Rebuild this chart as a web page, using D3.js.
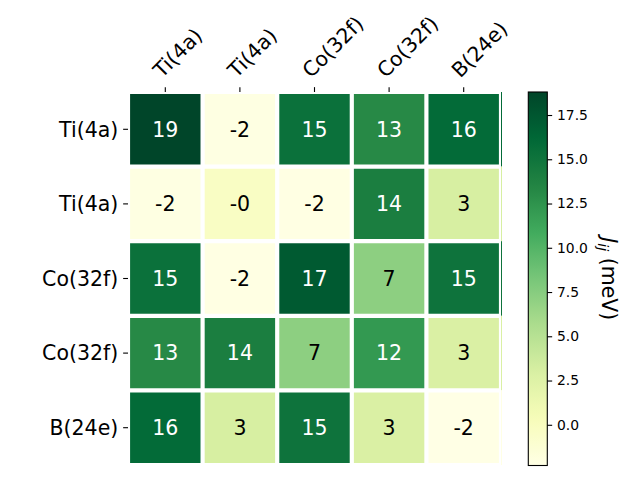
<!DOCTYPE html>
<html>
<head>
<meta charset="utf-8">
<script src="https://cdn.jsdelivr.net/npm/d3@7/dist/d3.min.js"></script>
<style>
  html, body { margin: 0; padding: 0; background: #fff; }
  svg { display: block; font-family: "DejaVu Sans", sans-serif; }
</style>
</head>
<body>
<svg id="chart" width="640" height="480"></svg>
<script>
const rowLabels = ["Ti(4a)", "Ti(4a)", "Co(32f)", "Co(32f)", "B(24e)"];
const colLabels = ["Ti(4a)", "Ti(4a)", "Co(32f)", "Co(32f)", "B(24e)"];
const row0 = [18.8, -2.1, 15.3, 13.2, 15.9];
const row1 = [-2.1, -0.3, -2.2, 14.1, 3.1];
const row2 = [15.3, -2.2, 17.2, 7.2, 15.1];
const row3 = [13.2, 14.1, 7.2, 12.1, 2.9];
const row4 = [15.9, 3.1, 15.1, 2.9, -2.3];
const matrix = [row0, row1, row2, row3, row4];
const cbTicks = [0.0, 2.5, 5.0, 7.5, 10.0, 12.5, 15.0, 17.5];
const cbLabel = "(meV)";

// matplotlib YlGn
const ylgn = ["#ffffe5","#f7fcb9","#d9f0a3","#addd8e","#78c679","#41ab5d","#238443","#006837","#004529"];

const svg = d3.select("#chart");
const L = 128, T = 92, W = 373, H = 373;
const FS = 20.5;

const allVals = matrix.flat();
const vmin = d3.min(allVals), vmax = d3.max(allVals);
const tScale = d3.scaleLinear().domain([vmin, vmax]).range([0, 1]);
const cmap = d3.scaleLinear()
  .domain(ylgn.map((c, i) => i / (ylgn.length - 1)))
  .range(ylgn).interpolate(d3.interpolateRgb).clamp(true);
const color = v => cmap(tScale(v));

const x = d3.scaleBand().domain(d3.range(colLabels.length)).range([L, L + W]).padding(0);
const y = d3.scaleBand().domain(d3.range(rowLabels.length)).range([T, T + H]).padding(0);

const cells = [];
matrix.forEach((r, i) => r.forEach((v, j) => cells.push({i, j, v})));

const g = svg.append("g");
g.selectAll("rect.cell").data(cells).enter().append("rect")
  .attr("x", d => x(d.j))
  .attr("y", d => y(d.i))
  .attr("width", d => x.bandwidth() + (d.j === colLabels.length - 1 ? 1 : 0))
  .attr("height", y.bandwidth())
  .attr("fill", d => color(d.v));

// white grid lines clipped to the axes
svg.append("clipPath").attr("id", "axclip").append("rect")
  .attr("x", L).attr("y", T).attr("width", W).attr("height", H);
const grid = svg.append("g").attr("clip-path", "url(#axclip)");
const gw = 4.17;
const bounds = d3.range(colLabels.length + 1);
grid.selectAll("line.v").data(bounds).enter().append("line")
  .attr("x1", k => L + k * x.bandwidth()).attr("x2", k => L + k * x.bandwidth())
  .attr("y1", T).attr("y2", T + H)
  .attr("stroke", "#fff").attr("stroke-width", gw);
grid.selectAll("line.h").data(bounds).enter().append("line")
  .attr("y1", k => T + k * y.bandwidth()).attr("y2", k => T + k * y.bandwidth())
  .attr("x1", L).attr("x2", L + W)
  .attr("stroke", "#fff").attr("stroke-width", gw);

// annotations
const thresh = (vmin + vmax) / 2;
g.selectAll("text.ann").data(cells).enter().append("text")
  .attr("x", d => x(d.j) + x.bandwidth() / 2)
  .attr("y", d => y(d.i) + y.bandwidth() / 2)
  .attr("dy", "0.36em")
  .attr("text-anchor", "middle")
  .attr("font-size", FS + "px")
  .attr("fill", d => d.v > thresh ? "#fff" : "#000")
  .text(d => {
    const r = Math.round(d.v);
    return (r === 0 && d.v < 0) ? "-0" : String(r);
  });

const tickLen = 4.86, pad = 4.86;
// top x-axis ticks
const xt = svg.append("g");
colLabels.forEach((lab, j) => {
  const cx = x(j) + x.bandwidth() / 2;
  xt.append("line").attr("x1", cx).attr("x2", cx).attr("y1", T).attr("y2", T - tickLen)
    .attr("stroke", "#000").attr("stroke-width", 1.1);
  xt.append("text")
    .attr("transform", `translate(${cx},${T - tickLen - pad}) rotate(-45)`)
    .attr("y", -0.236 * FS)
    .attr("text-anchor", "start")
    .attr("font-size", FS + "px")
    .attr("fill", "#000")
    .text(lab);
});
// left y-axis ticks
const yt = svg.append("g");
rowLabels.forEach((lab, i) => {
  const cy = y(i) + y.bandwidth() / 2;
  yt.append("line").attr("x1", L).attr("x2", L - tickLen).attr("y1", cy).attr("y2", cy)
    .attr("stroke", "#000").attr("stroke-width", 1.1);
  yt.append("text")
    .attr("x", L - tickLen - pad).attr("y", cy).attr("dy", "0.36em")
    .attr("text-anchor", "end")
    .attr("font-size", FS + "px")
    .attr("fill", "#000")
    .text(lab);
});

// colorbar
const cbX = 528.3, cbW = 19, cbT = T, cbH = 373.5;
const cbScale = d3.scaleLinear().domain([vmin, vmax]).range([cbT + cbH, cbT]);
const defs = svg.append("defs");
const grad = defs.append("linearGradient").attr("id", "cbgrad")
  .attr("x1", 0).attr("y1", 1).attr("x2", 0).attr("y2", 0);
d3.range(0, 1.0001, 0.02).forEach(t => {
  grad.append("stop").attr("offset", t).attr("stop-color", cmap(t));
});
svg.append("rect").attr("x", cbX).attr("y", cbT).attr("width", cbW).attr("height", cbH)
  .attr("fill", "url(#cbgrad)");
svg.append("rect").attr("x", cbX).attr("y", cbT).attr("width", cbW).attr("height", cbH)
  .attr("fill", "none").attr("stroke", "#000").attr("stroke-width", 1.1);

const cbAxis = d3.axisRight(cbScale).tickValues(cbTicks).tickFormat(d3.format(".1f"))
  .tickSize(tickLen).tickPadding(pad);
const cbg = svg.append("g").attr("transform", `translate(${cbX + cbW},0)`).call(cbAxis);
cbg.select(".domain").remove();
cbg.selectAll(".tick line").attr("stroke", "#000").attr("stroke-width", 1.1);
cbg.selectAll(".tick text").attr("font-size", "13.9px")
  .attr("font-family", "DejaVu Sans, sans-serif").attr("fill", "#000");

// colorbar label
const lbl = svg.append("text")
  .attr("transform", `translate(602,${cbT + cbH / 2}) rotate(90)`)
  .attr("text-anchor", "middle")
  .attr("font-size", FS + "px")
  .attr("fill", "#000");
lbl.append("tspan").attr("font-style", "italic").text("J");
lbl.append("tspan").attr("font-style", "italic").attr("font-size", (FS * 0.7) + "px").attr("dy", "4").text("ij");
lbl.append("tspan").attr("dy", "-4").text("\u00a0" + cbLabel);
</script>
</body>
</html>
